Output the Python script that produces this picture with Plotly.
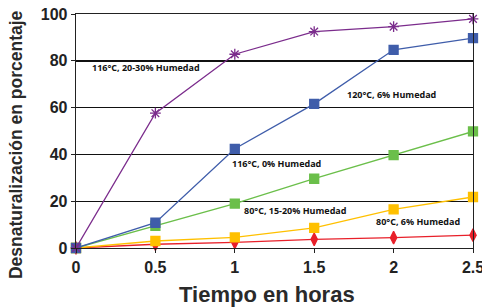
import plotly.graph_objects as go

x = [0, 0.5, 1, 1.5, 2, 2.5]
x_ticks = ["0", "0.5", "1", "1.5", "2", "2.5"]
y_tickvals = [0, 20, 40, 60, 80, 100]
s_116_2030 = [0, 57.6, 82.8, 92.5, 94.6, 97.9]
s_120_6 = [0, 10.8, 42.4, 61.6, 84.7, 89.7]
s_116_0 = [0, 9.5, 19.0, 29.6, 39.7, 49.8]
s_80_1520 = [0, 3.0, 4.5, 8.6, 16.5, 21.8]
s_80_6 = [0, 1.6, 2.4, 3.7, 4.4, 5.5]

labels = ["116°C, 20-30% Humedad", "120°C, 6% Humedad", "116°C, 0% Humedad",
          "80°C, 15-20% Humedad", "80°C, 6% Humedad"]
label_x = [0.088, 1.694, 0.97, 1.047, 1.877]
label_y = [77.2, 65.5, 36.0, 16.2, 11.2]

fig = go.Figure()
series = [
    (s_80_6, "#E8202A", "diamond-tall", 9),
    (s_80_1520, "#FFC000", "square", 9),
    (s_116_0, "#6BBF4A", "square", 9),
    (s_120_6, "#3F5DAA", "square", 9),
    (s_116_2030, "#7B2C8C", "asterisk-open", 9),
]
for ys, col, sym, sz in series:
    fig.add_trace(go.Scatter(
        x=x, y=ys, mode="lines+markers",
        line=dict(color=col, width=1.3),
        marker=dict(symbol=sym, size=sz, color=col, line=dict(color=col, width=1.3)),
        cliponaxis=False, showlegend=False, hoverinfo="skip"))

for t, lx, ly in zip(labels, label_x, label_y):
    fig.add_annotation(x=lx, y=ly, text="<b>" + t + "</b>", showarrow=False, xanchor="left", yanchor="middle",
                       font=dict(family="Open Sans", size=9, color="#111111"))

fig.add_annotation(xref="paper", yref="paper", x=-0.151, y=0.44, text="<b>Desnaturalización en porcentaje</b>",
                   textangle=-90, showarrow=False, xanchor="center", yanchor="middle",
                   font=dict(family="Liberation Sans", size=17.5, color="#2a2a2a"))
fig.add_annotation(xref="paper", yref="paper", x=0.48, y=-0.197, text="<b>Tiempo en horas</b>",
                   showarrow=False, xanchor="center", yanchor="middle",
                   font=dict(family="Liberation Sans", size=22, color="#2a2a2a"))

fig.update_layout(
    width=482, height=307,
    margin=dict(l=76, r=9, t=14, b=59),
    paper_bgcolor="white", plot_bgcolor="white",
    font=dict(family="Liberation Sans", color="#222222"),
    xaxis=dict(range=[0, 2.5], tickvals=x, ticktext=["<b>" + t + "</b>" for t in x_ticks],
               showgrid=False, showline=True, linecolor="#222222", linewidth=1.3, mirror=True,
               ticks="outside", ticklen=4, tickcolor="#222222", tickwidth=1,
               tickfont=dict(size=16, family="Liberation Sans", color="#222222"),
               ticklabeloverflow="allow",
               automargin=False, zeroline=False),
    yaxis=dict(range=[0, 100], tickvals=y_tickvals, ticktext=["<b>%d</b>" % v for v in y_tickvals],
               showgrid=True, gridcolor="#111111", gridwidth=1.4,
               showline=True, linecolor="#222222", linewidth=1.3, mirror=True,
               ticks="outside", ticklen=4, tickcolor="#222222", tickwidth=1,
               tickfont=dict(size=16, color="#222222"),
               automargin=False, zeroline=False),
)
fig.write_html("out.html", config={"displayModeBar": False, "staticPlot": True},
               post_script="document.body.style.margin='0';document.body.style.padding='0';")
